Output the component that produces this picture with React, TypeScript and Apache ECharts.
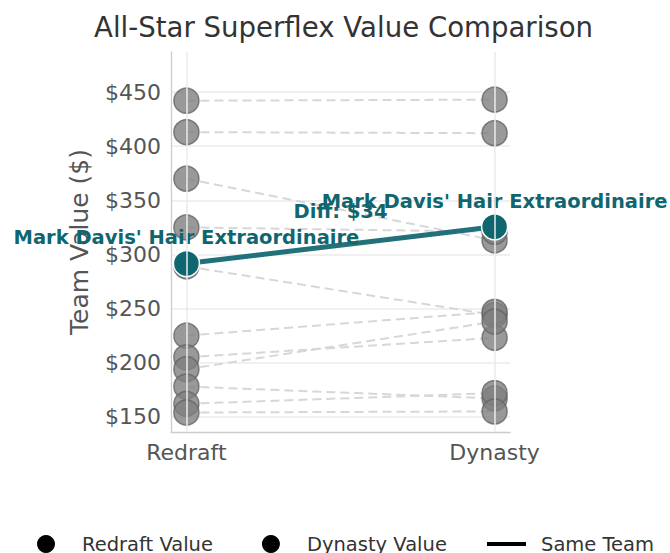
import React, { useEffect, useRef } from "react";
import * as echarts from "echarts";

// ---- Data ----
const categories = ["Redraft", "Dynasty"];
const teamRedraft = [442, 413, 370, 325, 289, 225, 205, 194, 178, 162, 154];
const teamDynasty = [443, 412, 313, 321, 244, 247, 223, 238, 167, 172, 155];
const highlightTeam = "Mark Davis' Hair Extraordinaire";
const highlightRedraft = 291.6;
const highlightDynasty = 325.5;
const yMin = 136;
const yMax = 487;

const FONT = "'DejaVu Sans', sans-serif";
const TEAL = "#10666f";
const TEAL_LINE = "#22717a";

export default function App() {
  const ref = useRef<HTMLDivElement>(null);
  useEffect(() => {
    if (!ref.current) return;
    const chart = echarts.init(ref.current, null, { renderer: "svg" });
    const diff = Math.round(highlightDynasty - highlightRedraft);

    const dashed = teamRedraft.map((r, i) => ({
      type: "line",
      data: [
        [0, r],
        [1, teamDynasty[i]],
      ],
      symbol: "none",
      silent: true,
      z: 1,
      lineStyle: { color: "#d7d7d7", width: 2, type: [9, 5] },
      ...(i === 0
        ? {
            markLine: {
              silent: true,
              symbol: "none",
              label: { show: false },
              lineStyle: { color: "#ebebeb", width: 1.5, type: "solid" },
              data: [{ xAxis: 0 }, { xAxis: 1 }],
            },
          }
        : {}),
    }));

    const greyStyle = {
      color: "rgba(128,128,128,0.8)",
      borderColor: "rgba(100,100,100,0.8)",
      borderWidth: 1.5,
      opacity: 1,
    };

    const legendText = { fontFamily: FONT, fontSize: 19.5, color: "#333" };

    const option: any = {
      animation: false,
      title: {
        text: "All-Star Superflex Value Comparison",
        left: 89,
        top: 8,
        textStyle: { fontFamily: FONT, fontSize: 27.6, fontWeight: "normal", color: "#333" },
      },
      grid: { left: 171, right: 160, top: 52, bottom: 121 },
      xAxis: {
        type: "value",
        min: -0.05,
        max: 1.05,
        axisLine: { show: true, onZero: false, lineStyle: { color: "#cccccc", width: 1.3 } },
        axisTick: { show: false },
        splitLine: { show: false },
        axisLabel: {
          showMinLabel: false,
          showMaxLabel: false,
          formatter: (v: number) => (v === 0 ? categories[0] : v === 1 ? categories[1] : ""),
          fontFamily: FONT,
          fontSize: 22,
          color: "#555",
          margin: 9,
        },
      },
      yAxis: {
        type: "value",
        min: yMin,
        max: yMax,
        splitNumber: 7,
        minInterval: 50,
        maxInterval: 50,
        name: "Team Value ($)",
        nameLocation: "middle",
        nameGap: 79,
        nameTextStyle: { fontFamily: FONT, fontSize: 25, color: "#555" },
        axisLine: { show: true, onZero: false, lineStyle: { color: "#cccccc", width: 1.3 } },
        axisTick: { show: false },
        axisLabel: {
          showMinLabel: false,
          showMaxLabel: false,
          formatter: (v: number) => (v % 50 === 0 ? "$" + v : ""),
          fontFamily: FONT,
          fontSize: 22,
          color: "#555",
          margin: 10,
        },
        splitLine: {
          show: true,
          showMinLine: false,
          showMaxLine: false,
          lineStyle: { color: "#ebebeb", width: 1.5 },
        },
      },
      legend: [
        {
          data: [
            { name: "Redraft Value", itemStyle: { color: "#000", borderWidth: 0, opacity: 1 } },
            { name: "Dynasty Value", itemStyle: { color: "#000", borderWidth: 0, opacity: 1 } },
          ],
          icon: "circle",
          left: 37,
          top: 534,
          padding: 0,
          itemWidth: 18,
          itemHeight: 18,
          itemGap: 49,
          selectedMode: false,
          textStyle: { ...legendText, padding: [0, 0, 0, 22] },
        },
        {
          data: [{ name: "Same Team", itemStyle: { color: "#000", opacity: 1 } }],
          icon: "rect",
          left: 487,
          top: 534,
          padding: 0,
          itemWidth: 39,
          itemHeight: 4,
          selectedMode: false,
          textStyle: { ...legendText, padding: [0, 0, 0, 10] },
        },
      ],
      series: [
        ...dashed,
        {
          name: "Redraft Value",
          type: "scatter",
          data: teamRedraft.map((v) => [0, v]),
          symbolSize: 25,
          z: 2,
          itemStyle: greyStyle,
        },
        {
          name: "Dynasty Value",
          type: "scatter",
          data: teamDynasty.map((v) => [1, v]),
          symbolSize: 25,
          z: 2,
          itemStyle: greyStyle,
        },
        {
          name: "Same Team",
          type: "line",
          data: [
            [0, highlightRedraft],
            [1, highlightDynasty],
          ],
          symbol: "none",
          z: 3,
          lineStyle: { color: TEAL_LINE, width: 5 },
        },
        {
          name: highlightTeam,
          type: "scatter",
          data: [
            [0, highlightRedraft],
            [1, highlightDynasty],
          ],
          symbolSize: 26,
          z: 4,
          itemStyle: { color: TEAL, borderColor: "#fff", borderWidth: 1.5, opacity: 1 },
          label: {
            show: true,
            position: "top",
            distance: 2,
            formatter: highlightTeam,
            fontFamily: FONT,
            fontSize: 19.5,
            fontWeight: "bold",
            color: TEAL,
          },
        },
        {
          name: "diff",
          type: "scatter",
          data: [[0.5, (highlightRedraft + highlightDynasty) / 2]],
          symbolSize: 1,
          z: 5,
          itemStyle: { color: "rgba(0,0,0,0)", opacity: 1 },
          label: {
            show: true,
            position: "inside",
            offset: [0, -34],
            formatter: `Diff: $${diff}`,
            fontFamily: FONT,
            fontSize: 19.5,
            fontWeight: "bold",
            color: TEAL,
            textBorderWidth: 0,
          },
        },
      ],
    };
    chart.setOption(option);
    return () => chart.dispose();
  }, []);
  return (
    <div
      ref={ref}
      style={{ position: "fixed", left: 0, top: 0, width: 670, height: 553, background: "#fff" }}
    />
  );
}
